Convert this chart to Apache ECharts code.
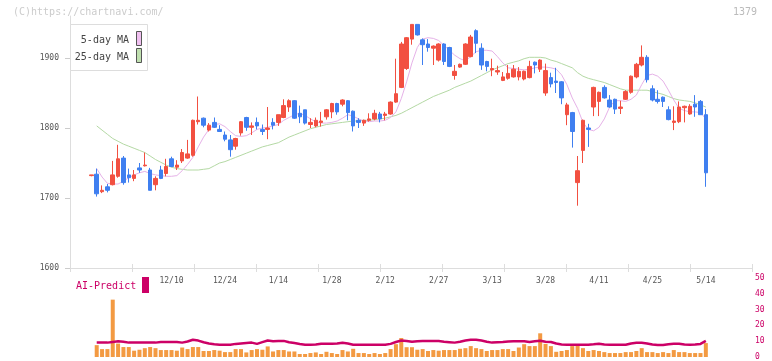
<!DOCTYPE html>
<html><head><meta charset="utf-8">
<script src="https://cdn.jsdelivr.net/npm/echarts@6/dist/echarts.min.js"></script>
<style>html,body{margin:0;padding:0;background:#fff}#c{width:772px;height:361px}</style>
</head><body><div id="c"></div><script>
const dates = ['11/19','11/20','11/21','11/22','11/25','11/26','11/27','11/28','11/29','12/2','12/3','12/4','12/5','12/6','12/9','12/10','12/11','12/12','12/13','12/16','12/17','12/18','12/19','12/20','12/23','12/24','12/25','12/26','12/27','12/30','1/6','1/7','1/8','1/9','1/10','1/14','1/15','1/16','1/17','1/20','1/21','1/22','1/23','1/24','1/27','1/28','1/29','1/30','1/31','2/3','2/4','2/5','2/6','2/7','2/10','2/12','2/13','2/14','2/17','2/18','2/19','2/20','2/21','2/25','2/26','2/27','2/28','3/3','3/4','3/5','3/6','3/7','3/10','3/11','3/12','3/13','3/14','3/17','3/18','3/19','3/21','3/24','3/25','3/26','3/27','3/28','3/31','4/1','4/2','4/3','4/4','4/7','4/8','4/9','4/10','4/11','4/14','4/15','4/16','4/17','4/18','4/21','4/22','4/23','4/24','4/25','4/28','4/30','5/1','5/2','5/7','5/8','5/9','5/12','5/13','5/14'];
const labelIdx = [15,25,35,45,55,65,75,85,95,105,115];
const openP = [1732,1734,1709,1716,1719,1731,1757,1733,1728,1743,1746,1740,1719,1740,1735,1756,1744,1753,1757,1761,1809,1814,1797,1808,1798,1790,1783,1774,1793,1815,1801,1808,1798,1798,1808,1808,1815,1830,1839,1821,1826,1805,1803,1808,1816,1823,1835,1834,1839,1824,1811,1807,1811,1813,1820,1818,1820,1837,1858,1885,1927,1948,1926,1920,1914,1897,1920,1915,1875,1887,1891,1902,1939,1914,1895,1883,1880,1868,1871,1873,1873,1870,1872,1894,1884,1850,1872,1867,1866,1819,1822,1722,1768,1800,1830,1838,1858,1840,1841,1828,1841,1851,1873,1890,1901,1856,1841,1844,1826,1808,1809,1829,1820,1834,1838,1819];
const closeP = [1733,1706,1711,1711,1733,1756,1722,1729,1733,1740,1747,1711,1728,1728,1745,1745,1747,1765,1763,1811,1811,1804,1804,1801,1795,1784,1769,1785,1809,1801,1803,1803,1795,1800,1804,1819,1832,1839,1814,1816,1807,1808,1811,1810,1826,1835,1823,1840,1822,1803,1808,1811,1813,1821,1813,1820,1837,1849,1920,1929,1948,1933,1919,1915,1917,1920,1895,1888,1881,1891,1920,1930,1921,1890,1888,1885,1882,1873,1878,1884,1881,1881,1888,1890,1897,1882,1863,1865,1843,1833,1795,1739,1811,1798,1858,1851,1843,1830,1827,1830,1852,1874,1891,1901,1869,1840,1838,1838,1812,1810,1830,1831,1831,1830,1819,1736];
const lowP = [1731,1702,1707,1708,1718,1729,1719,1722,1724,1736,1745,1711,1711,1727,1731,1744,1740,1750,1756,1759,1805,1801,1795,1800,1795,1781,1759,1769,1789,1796,1790,1798,1790,1784,1798,1803,1814,1823,1813,1807,1805,1800,1801,1802,1812,1814,1819,1831,1811,1795,1800,1803,1809,1811,1808,1811,1819,1836,1857,1883,1919,1932,1890,1909,1890,1895,1890,1887,1869,1886,1890,1901,1907,1883,1881,1874,1876,1867,1869,1872,1868,1868,1871,1878,1880,1846,1858,1850,1834,1804,1772,1689,1750,1773,1817,1817,1842,1829,1820,1820,1840,1849,1871,1888,1865,1838,1835,1830,1811,1797,1807,1808,1819,1816,1819,1716];
const highP = [1733,1742,1718,1720,1753,1776,1760,1742,1740,1750,1765,1743,1731,1746,1756,1759,1754,1770,1783,1812,1845,1815,1807,1815,1804,1795,1790,1786,1810,1816,1808,1815,1805,1830,1814,1819,1841,1841,1840,1832,1826,1814,1815,1823,1827,1836,1836,1841,1840,1825,1814,1812,1821,1826,1823,1823,1838,1899,1923,1930,1948,1948,1928,1927,1918,1921,1921,1916,1890,1892,1921,1933,1941,1921,1896,1899,1889,1880,1890,1890,1887,1882,1896,1895,1898,1892,1879,1886,1867,1836,1823,1760,1812,1806,1859,1852,1861,1847,1842,1839,1854,1875,1893,1918,1904,1861,1854,1845,1831,1831,1838,1832,1834,1847,1840,1827];
const ma5 = [null,1742,1730,1721,1720,1720,1724,1729,1733,1736,1738,1735,1733,1732,1731,1731,1732,1739,1748,1758,1773,1787,1798,1805,1806,1802,1795,1789,1788,1789,1793,1798,1800,1801,1803,1805,1811,1815,1819,1821,1818,1813,1809,1807,1807,1808,1810,1814,1819,1817,1813,1810,1809,1810,1810,1811,1815,1823,1842,1866,1893,1915,1927,1929,1928,1925,1918,1911,1904,1899,1896,1902,1909,1911,1911,1910,1902,1893,1886,1885,1884,1883,1884,1886,1887,1887,1886,1884,1876,1862,1843,1828,1808,1798,1796,1801,1813,1830,1839,1839,1838,1841,1847,1862,1875,1877,1874,1867,1854,1840,1828,1825,1823,1823,1822,1813];
const ma25 = [null,1803,1797,1791,1785,1781,1777,1774,1771,1768,1765,1760,1755,1751,1747,1744,1742,1741,1740,1740,1740,1741,1742,1746,1750,1752,1755,1758,1761,1764,1767,1770,1773,1775,1777,1779,1783,1787,1790,1793,1796,1799,1801,1803,1805,1806,1807,1808,1809,1810,1810,1811,1811,1812,1813,1814,1816,1818,1821,1825,1829,1833,1837,1841,1845,1848,1851,1854,1858,1861,1864,1867,1871,1875,1879,1883,1886,1889,1892,1894,1896,1899,1901,1901,1901,1900,1897,1895,1892,1889,1886,1879,1874,1871,1869,1867,1865,1862,1859,1856,1854,1854,1854,1854,1854,1852,1850,1848,1845,1842,1840,1839,1838,1836,1833,1830];
const volume = [null,7.5,5,5,36.3,8.5,6.3,6.3,4,4.6,5.6,6.3,5.6,4.4,4.4,4.4,4,6,5,6.3,6.3,3.8,3.8,4.4,4,3.1,3.1,5,5,2.9,4.4,5,4.6,6.7,3.5,4.4,4.4,3.5,3.5,1.9,1.9,2.5,2.9,1.9,3.3,2.5,1.9,4.4,3.5,5.2,2.5,2.5,1.9,2.5,1.9,2.5,5,8.1,12,6.2,6.2,4.6,5,3.8,4.4,4,4.4,4.4,4.4,5.2,5.6,6.9,5.6,5,3.8,4.4,4.4,5,5,3.8,6,8.1,6.9,6.9,15,8.3,6.9,3.3,3.8,4.4,6.9,7.9,5.6,3.8,4.4,3.8,3.1,2.5,2.5,2.5,3.1,3.1,3.8,5.6,3.1,3.1,2.5,3.1,2.5,4.4,3.1,3.1,2.5,2.5,2.5,8.8];
const aiPredict = [null,9.1,9.1,9.1,9.5,9.9,9.7,9.1,9.1,9.1,9.1,9.1,9.1,9.5,9.5,9.5,9.5,9.1,9.8,10.9,10.4,9.3,8.6,8.1,7.8,7.8,7.8,8.3,8.6,8.9,9.1,8.3,9.4,10.4,10,10.1,10.2,9.3,8.8,8.2,7.8,7.8,7.9,8.4,8.4,8.4,8.5,9.0,8.5,7.8,7.8,7.8,7.8,7.8,7.8,7.8,8.3,9.5,10.4,10.1,9.6,10,10.1,10.1,10.1,10.1,9.7,9.4,9.1,9.6,10.4,10.9,10.9,10.4,9.7,9.1,9.3,9.5,9.8,9.9,9.9,9.9,9.5,9.9,10.3,9.6,9.5,8.5,7.9,7.8,7.8,7.8,7.8,7.8,8.0,8.4,7.9,7.8,7.8,7.8,7.8,8.6,9.0,9.0,8.6,7.9,7.6,7.6,8.1,8.4,8.4,7.9,7.8,7.9,8.3,10.2];
const priceTicks = [1600,1700,1800,1900];
const predictTicks = [0,10,20,30,40,50];

const X0 = 4, XMAX = 127.64;
const FONT = "'DejaVu Sans Mono', monospace";
const tickVals = Array.from({length:12},(_,j)=>j*XMAX/11);
const labelVals = labelIdx.map(i=>i+X0);
const xy = arr => arr.map((v,i)=>[i+X0, v]);
const candles = dates.map((d,i)=>[i+X0, openP[i], closeP[i], lowP[i], highP[i]]);

const chart = echarts.init(document.getElementById('c'), null, {renderer:'canvas'});
chart.setOption({
  animation:false,
  backgroundColor:'#fff',
  grid:[
    {left:70, right:20, top:16, bottom:93},
    {left:70, right:20, top:278, height:80}
  ],
  xAxis:[
    {type:'value', gridIndex:0, min:0, max:XMAX,
     axisLine:{show:true, lineStyle:{color:'#dddddd'}},
     axisTick:{show:true, customValues:tickVals, length:4, lineStyle:{color:'#dddddd'}},
     axisLabel:{customValues:labelVals, formatter:v=>dates[Math.round(v)-X0], fontSize:8, fontFamily:FONT, color:'#555', margin:9},
     splitLine:{show:false}},
    {type:'value', gridIndex:0, min:0, max:XMAX, position:'bottom',
     axisLine:{show:false},
     axisTick:{show:true, inside:true, customValues:tickVals, length:4, lineStyle:{color:'#dddddd'}},
     axisLabel:{show:false}, splitLine:{show:false}},
    {type:'value', gridIndex:1, min:0, max:XMAX, show:false}
  ],
  yAxis:[
    {type:'value', gridIndex:0, min:1600, max:1960,
     axisLine:{show:true, lineStyle:{color:'#dddddd'}},
     axisTick:{show:true, customValues:priceTicks, length:5, lineStyle:{color:'#cccccc'}},
     axisLabel:{customValues:priceTicks, formatter:v=>String(v), fontSize:8, fontFamily:FONT, color:'#555', margin:11},
     splitLine:{show:false}},
    {type:'value', gridIndex:1, min:0, max:50, position:'right',
     axisLine:{show:false}, axisTick:{show:false},
     axisLabel:{customValues:predictTicks, formatter:v=>String(v), fontSize:8, fontFamily:FONT, color:'#cc0066', margin:3},
     splitLine:{show:false}}
  ],
  series:[
    {type:'line', name:'25-day MA', xAxisIndex:0, yAxisIndex:0, data:xy(ma25), symbol:'none',
     lineStyle:{color:'#b4d9a4', width:1}, z:2},
    {type:'line', name:'5-day MA', xAxisIndex:0, yAxisIndex:0, data:xy(ma5), symbol:'none',
     lineStyle:{color:'#e6b2e8', width:1}, z:2},
    {type:'candlestick', xAxisIndex:0, yAxisIndex:0, data:candles, barWidth:4,
     itemStyle:{color:'#f25041', color0:'#3f7ff0', borderColor:'#f25041', borderColor0:'#3f7ff0', borderWidth:1}, z:3},
    {type:'bar', xAxisIndex:2, yAxisIndex:1, data:xy(volume), barWidth:4,
     itemStyle:{color:'#f39a42'}, z:2},
    {type:'line', xAxisIndex:2, yAxisIndex:1, data:xy(aiPredict), symbol:'none',
     lineStyle:{color:'#cc0066', width:2.5}, z:3}
  ],
  graphic:{elements:[
    {type:'text', x:13, y:12, style:{text:'(C)https://chartnavi.com/', font:'10px '+FONT, fill:'#cccccc', textAlign:'left', textVerticalAlign:'middle'}},
    {type:'text', x:757, y:12, style:{text:'1379', font:'10px '+FONT, fill:'#bbbbbb', textAlign:'right', textVerticalAlign:'middle'}},
    {type:'rect', shape:{x:70.5, y:24.5, width:77, height:46}, style:{fill:'#fff', stroke:'#dddddd', lineWidth:1}, z:10},
    {type:'text', x:129, y:40, style:{text:'5-day MA', font:'10px '+FONT, fill:'#444', textAlign:'right', textVerticalAlign:'middle'}, z:11},
    {type:'rect', shape:{x:136.5, y:31.5, width:5, height:14}, style:{fill:'#f0c0f0', stroke:'#555', lineWidth:1}, z:11},
    {type:'text', x:129, y:57, style:{text:'25-day MA', font:'10px '+FONT, fill:'#444', textAlign:'right', textVerticalAlign:'middle'}, z:11},
    {type:'rect', shape:{x:136.5, y:48.5, width:5, height:14}, style:{fill:'#c0e0b0', stroke:'#555', lineWidth:1}, z:11},
    {type:'text', x:76, y:286, style:{text:'AI-Predict', font:'10px '+FONT, fill:'#cc0066', textAlign:'left', textVerticalAlign:'middle'}},
    {type:'rect', shape:{x:142, y:277, width:7, height:16}, style:{fill:'#cc0066'}}
  ]}
});
</script></body></html>
